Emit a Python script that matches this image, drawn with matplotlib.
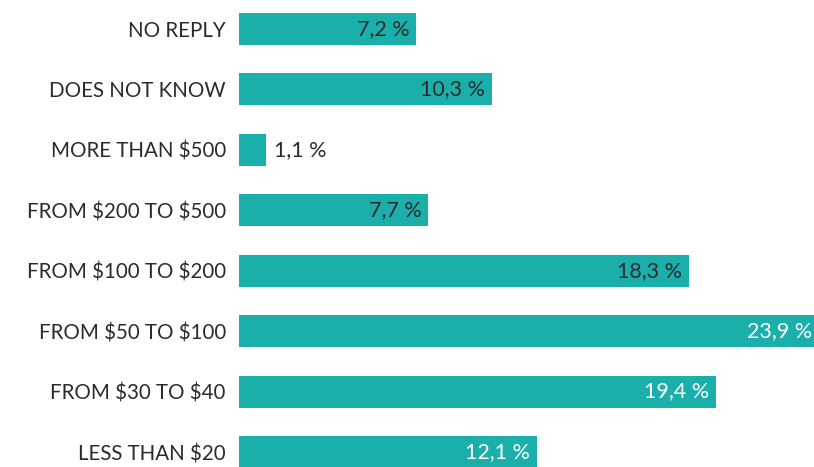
import matplotlib
matplotlib.use("Agg")
import matplotlib.pyplot as plt

categories = ["LESS THAN $20", "FROM $30 TO $40", "FROM $50 TO $100", "FROM $100 TO $200",
              "FROM $200 TO $500", "MORE THAN $500", "DOES NOT KNOW", "NO REPLY"]
values = [12.1, 19.4, 23.9, 18.3, 7.7, 1.1, 10.3, 7.2]
labels = ["12,1 %", "19,4 %", "23,9 %", "18,3 %", "7,7 %", "1,1 %", "10,3 %", "7,2 %"]
label_colors = ["white", "white", "white", "#2b2b2b", "#2b2b2b", "#2b2b2b", "#2b2b2b", "#2b2b2b"]
label_inside = [True, True, True, True, True, False, True, True]

plt.rcParams['font.family'] = ['Lato', 'DejaVu Sans']
plt.rcParams['text.parse_math'] = False

W, H = 814, 467
fig = plt.figure(figsize=(W / 100, H / 100), dpi=100)
left_px = 239
px_per_unit = 24.6
xmax = 24.0
ax = fig.add_axes([left_px / W, 0, xmax * px_per_unit / W, 1])

bar_color = "#1BAFAB"
ypos = list(range(len(categories)))
ax.barh(ypos, values, height=0.53, color=bar_color, edgecolor="none")
ax.set_xlim(0, xmax)
ax.set_ylim(-0.248, 7.48)

ax.set_yticks(ypos)
ax.set_yticklabels(categories, fontsize=14.8, color="#2b2b2b")
ax.tick_params(axis='y', length=0, pad=9.5)
ax.set_xticks([])
for s in ax.spines.values():
    s.set_visible(False)

vis_max = (W - left_px) / px_per_unit  # visible data width
for y, v, lab, c, inside in zip(ypos, values, labels, label_colors, label_inside):
    if inside:
        xv = min(v, vis_max)
        off = -5 if v <= vis_max else -1
        ax.annotate(lab, (xv, y), xytext=(off, 0), textcoords="offset points",
                    ha="right", va="center", fontsize=15.5, color=c)
    else:
        ax.annotate(lab, (v, y), xytext=(6, 0), textcoords="offset points",
                    ha="left", va="center", fontsize=15.5, color=c)

fig.savefig("out.png", dpi=100)
